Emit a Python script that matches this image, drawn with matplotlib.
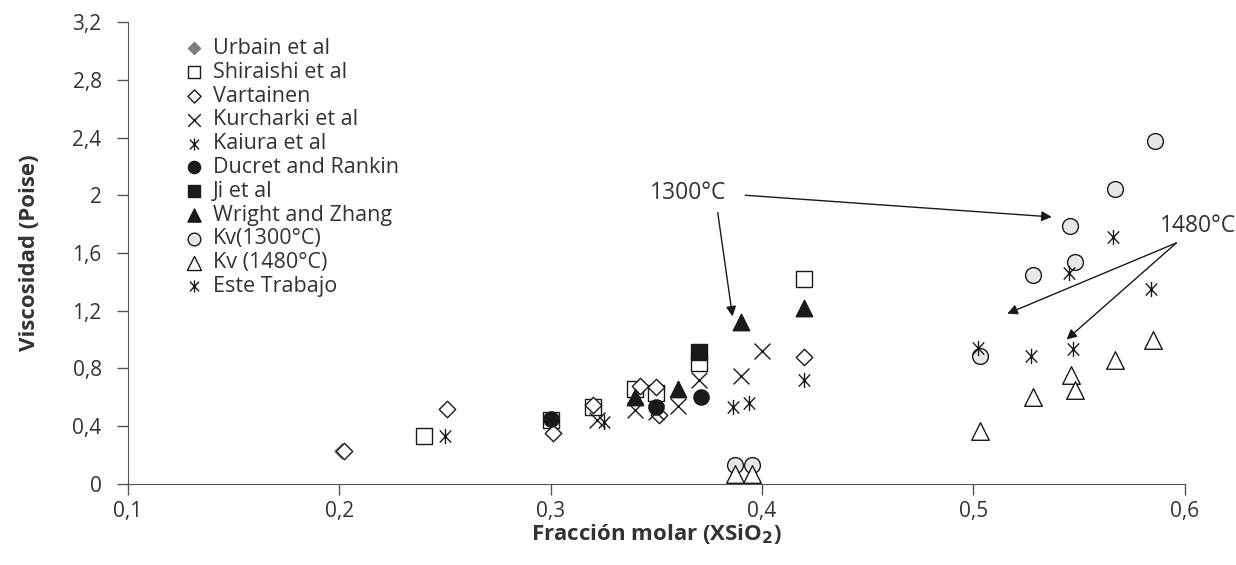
import matplotlib.pyplot as plt
from matplotlib.path import Path

# data (x = XSiO2, y = viscosity in Poise)
urbain_x = [0.201]
urbain_y = [0.225]
shiraishi_x = [0.240, 0.300, 0.320, 0.340, 0.350, 0.370, 0.420]
shiraishi_y = [0.33, 0.44, 0.53, 0.66, 0.63, 0.84, 1.42]
vartainen_x = [0.202, 0.251, 0.301, 0.320, 0.342, 0.350, 0.351, 0.420]
vartainen_y = [0.23, 0.52, 0.35, 0.55, 0.68, 0.67, 0.48, 0.88]
kurcharki_x = [0.322, 0.340, 0.350, 0.360, 0.370, 0.390, 0.400]
kurcharki_y = [0.44, 0.51, 0.50, 0.54, 0.72, 0.75, 0.92]
kaiura_x = [0.250, 0.325, 0.386, 0.394, 0.420]
kaiura_y = [0.33, 0.43, 0.53, 0.56, 0.72]
ducret_x = [0.300, 0.350, 0.371]
ducret_y = [0.45, 0.53, 0.60]
ji_x = [0.370]
ji_y = [0.915]
wright_x = [0.340, 0.360, 0.390, 0.420]
wright_y = [0.60, 0.66, 1.12, 1.22]
kv1300_x = [0.387, 0.395, 0.503, 0.528, 0.5455, 0.548, 0.567, 0.586]
kv1300_y = [0.13, 0.13, 0.89, 1.45, 1.79, 1.54, 2.04, 2.375]
kv1480_x = [0.387, 0.395, 0.503, 0.528, 0.546, 0.548, 0.567, 0.585]
kv1480_y = [0.07, 0.07, 0.37, 0.60, 0.755, 0.65, 0.86, 1.00]
este_x = [0.502, 0.527, 0.545, 0.547, 0.566, 0.584]
este_y = [0.94, 0.89, 1.46, 0.935, 1.71, 1.35]

x_ticks = [0.1, 0.2, 0.3, 0.4, 0.5, 0.6]
y_ticks = [0, 0.4, 0.8, 1.2, 1.6, 2.0, 2.4, 2.8, 3.2]

plt.rcParams['font.family'] = ['Open Sans', 'DejaVu Sans']
text_col = '#333333'
ink = '#1a1a1a'

# six-armed asterisk with steep diagonals
star = Path([(0, -1), (0, 1), (-0.75, -0.8), (0.75, 0.8), (-0.75, 0.8), (0.75, -0.8)],
            [Path.MOVETO, Path.LINETO] * 3)

fig = plt.figure(figsize=(12.36, 5.65), dpi=100)
ax = fig.add_axes([0.1036, 0.1434, 0.855, 0.8176])

lw = 1.0
ax.scatter(urbain_x, urbain_y, marker='D', s=60, color='#808080', label='Urbain et al', zorder=2)
ax.scatter(shiraishi_x, shiraishi_y, marker='s', s=130, facecolor='white', edgecolor=ink,
           linewidth=lw, label='Shiraishi et al', zorder=3)
ax.scatter(vartainen_x, vartainen_y, marker='D', s=70, facecolor='white', edgecolor=ink,
           linewidth=lw, label='Vartainen', zorder=4)
ax.scatter(kurcharki_x, kurcharki_y, marker='x', s=130, color=ink, linewidth=lw,
           label='Kurcharki et al', zorder=4)
ax.scatter(kaiura_x, kaiura_y, marker=star, s=120, color=ink, linewidth=lw,
           label='Kaiura et al', zorder=4)
ax.scatter(ducret_x, ducret_y, marker='o', s=120, color=ink, label='Ducret and Rankin', zorder=5)
ax.scatter(ji_x, ji_y, marker='s', s=130, color=ink, label='Ji et al', zorder=5)
ax.scatter(wright_x, wright_y, marker='^', s=140, color=ink, label='Wright and Zhang', zorder=5)
ax.scatter(kv1300_x, kv1300_y, marker='o', s=130, facecolor='#e6e7e8', edgecolor=ink,
           linewidth=lw, label='Kv(1300°C)', zorder=3)
ax.scatter(kv1480_x, kv1480_y, marker='^', s=160, facecolor='white', edgecolor=ink,
           linewidth=lw, label='Kv (1480°C)', zorder=3, clip_on=False)
ax.scatter(este_x, este_y, marker=star, s=120, color=ink, linewidth=lw,
           label='Este Trabajo', zorder=6)

arrow = dict(arrowstyle='-|>', color=ink, lw=1.0, mutation_scale=15, shrinkA=0, shrinkB=0)
ax.annotate('', xy=(0.537, 1.85), xytext=(0.392, 2.0), arrowprops=arrow)
ax.annotate('', xy=(0.386, 1.16), xytext=(0.379, 1.88), arrowprops=arrow)
ax.text(0.365, 2.015, '1300°C', fontsize=16.5, color=text_col, ha='center', va='center')
ax.annotate('', xy=(0.516, 1.18), xytext=(0.596, 1.67), arrowprops=arrow)
ax.annotate('', xy=(0.544, 1.00), xytext=(0.596, 1.67), arrowprops=arrow)
ax.text(0.606, 1.79, '1480°C', fontsize=16.5, color=text_col, ha='center', va='center')

ax.set_xlim(0.1, 0.6)
ax.set_ylim(0, 3.2)
ax.set_xticks(x_ticks)
ax.set_yticks(y_ticks)
ax.set_xticklabels([f'{v:g}'.replace('.', ',') for v in x_ticks])
ax.set_yticklabels([f'{v:g}'.replace('.', ',') for v in y_ticks])
ax.tick_params(colors='#555555', labelcolor=text_col, labelsize=15, length=8, width=1)
ax.tick_params(axis='y', pad=11)
ax.tick_params(axis='x', pad=4)
for side in ['top', 'right']:
    ax.spines[side].set_visible(False)
for side in ['left', 'bottom']:
    ax.spines[side].set_color('#555555')
ax.set_xlabel('Fracción molar (XSiO$_\\mathbf{2}$)', fontsize=16, fontweight='bold', color=text_col)
ax.set_ylabel('Viscosidad (Poise)', fontsize=16, fontweight='bold', color=text_col)
ax.xaxis.set_label_coords(0.5, -0.083)
ax.yaxis.set_label_coords(-0.083, 0.5)

leg = ax.legend(loc='upper left', bbox_to_anchor=(0.0458, 0.984), frameon=False, fontsize=15.5,
                labelcolor=text_col, handletextpad=0.5, labelspacing=0.13, borderaxespad=0,
                handlelength=0.8, scatterpoints=1, markerscale=0.8)

fig.savefig('out.png', dpi=100)
